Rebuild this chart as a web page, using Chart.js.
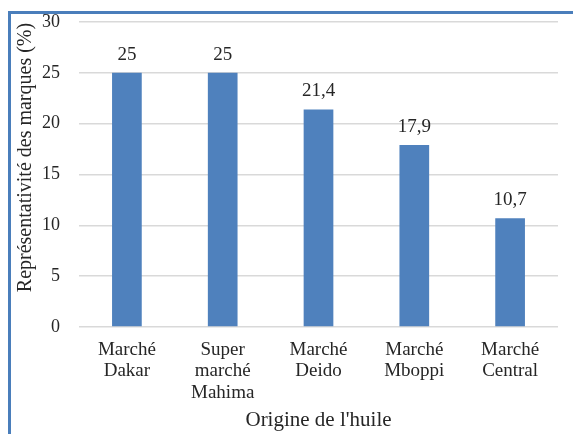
<!DOCTYPE html>
<html>
<head>
<meta charset="utf-8">
<script src="https://cdn.jsdelivr.net/npm/chart.js@4/dist/chart.umd.min.js"></script>
<style>
  html, body { margin: 0; padding: 0; background: #fff; }
  #wrap { position: relative; width: 573px; height: 437px; overflow: hidden; }
  #frame { position: absolute; left: 8px; top: 11px; width: 580px; height: 423px;
           border-top: 3px solid #4a7ebb; border-left: 3px solid #4a7ebb; box-sizing: border-box; }
  canvas { position: absolute; left: 0; top: 0; }
</style>
</head>
<body>
<div id="wrap">
  <div id="frame"></div>
  <canvas id="c" width="573" height="437"></canvas>
</div>
<script>
// Origine de l'huile — représentativité des marques par marché
const categories = [
  ["Marché", "Dakar"],
  ["Super", "marché", "Mahima"],
  ["Marché", "Deido"],
  ["Marché", "Mboppi"],
  ["Marché", "Central"]
];
const values = [25, 25, 21.4, 17.9, 10.7];
const valueLabels = ["25", "25", "21,4", "17,9", "10,7"];
const yTitle = "Représentativité des marques (%)";
const xTitle = "Origine de l'huile";

const serif = "'Liberation Serif', 'Times New Roman', serif";
const textColor = "#262626";

// Writes each bar's value just above it
const barValues = {
  id: "barValues",
  afterDatasetsDraw(chart) {
    const ctx = chart.ctx;
    const meta = chart.getDatasetMeta(0);
    ctx.save();
    ctx.font = "19px " + serif;
    ctx.fillStyle = textColor;
    ctx.textAlign = "center";
    ctx.textBaseline = "alphabetic";
    meta.data.forEach((bar, i) => {
      ctx.fillText(valueLabels[i], bar.x, bar.y - 13);
    });
    ctx.restore();
  }
};

// Vertical title of the value axis, written along the left edge
const valueAxisTitle = {
  id: "valueAxisTitle",
  afterDraw(chart) {
    const ctx = chart.ctx;
    const y = chart.scales.y;
    ctx.save();
    ctx.font = "20px " + serif;
    ctx.fillStyle = textColor;
    ctx.textAlign = "center";
    ctx.textBaseline = "middle";
    ctx.translate(26, (y.top + y.bottom) / 2 - 17);
    ctx.rotate(-Math.PI / 2);
    ctx.fillText(yTitle, 0, 0);
    ctx.restore();
  }
};

new Chart(document.getElementById("c"), {
  type: "bar",
  data: {
    labels: categories,
    datasets: [{
      data: values,
      backgroundColor: "#4f81bd",
      barPercentage: 0.62,
      categoryPercentage: 0.5
    }]
  },
  options: {
    responsive: false,
    animation: false,
    devicePixelRatio: 1,
    layout: { padding: { left: 12, right: 15, top: 22, bottom: 4 } },
    plugins: {
      legend: { display: false },
      tooltip: { enabled: false }
    },
    scales: {
      x: {
        grid: { display: false, drawTicks: false },
        border: { display: false },
        ticks: {
          color: textColor,
          font: { family: serif, size: 19, lineHeight: 1.13 },
          padding: 12,
          maxRotation: 0,
          autoSkip: false
        },
        title: {
          display: true,
          text: xTitle,
          color: textColor,
          font: { family: serif, size: 21 },
          padding: { top: 0, bottom: 0 }
        },
        afterFit(scale) {
          scale.height = 437 - 327 - 4;
          scale.paddingLeft = 0;
          scale.paddingRight = 0;
        }
      },
      y: {
        min: 0,
        max: 30,
        ticks: {
          stepSize: 5,
          color: textColor,
          font: { family: serif, size: 18 },
          padding: 19
        },
        grid: { color: "#d9d9d9", lineWidth: 1.5, drawTicks: false },
        border: { display: false },
        title: { display: false },
        afterFit(scale) {
          scale.width = 79 - 12;
          scale.paddingTop = 0;
          scale.paddingBottom = 0;
        }
      }
    }
  },
  plugins: [barValues, valueAxisTitle]
});
</script>
</body>
</html>
